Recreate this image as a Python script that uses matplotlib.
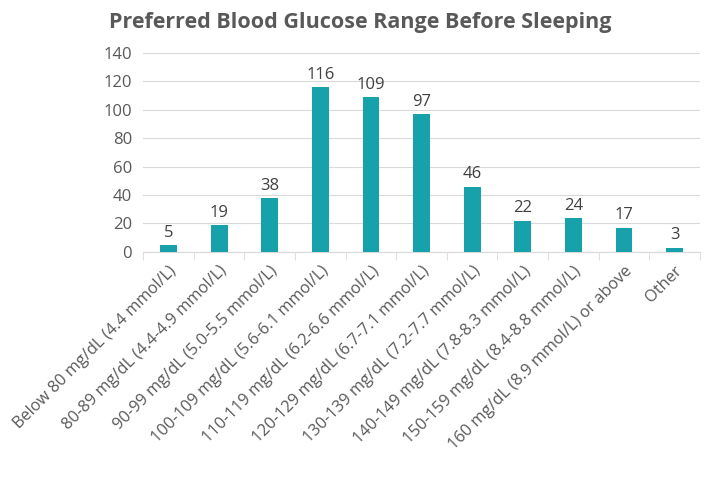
import matplotlib.pyplot as plt
from matplotlib.ticker import FixedLocator

# DATA
categories = [
    "Below 80 mg/dL (4.4 mmol/L)",
    "80-89 mg/dL (4.4-4.9 mmol/L)",
    "90-99 mg/dL (5.0-5.5 mmol/L)",
    "100-109 mg/dL (5.6-6.1 mmol/L)",
    "110-119 mg/dL (6.2-6.6 mmol/L)",
    "120-129 mg/dL (6.7-7.1 mmol/L)",
    "130-139 mg/dL (7.2-7.7 mmol/L)",
    "140-149 mg/dL (7.8-8.3 mmol/L)",
    "150-159 mg/dL (8.4-8.8 mmol/L)",
    "160 mg/dL (8.9 mmol/L) or above",
    "Other",
]
counts = [5, 19, 38, 116, 109, 97, 46, 22, 24, 17, 3]
y_ticks = [0, 20, 40, 60, 80, 100, 120, 140]


def main() -> None:
    plt.rcParams["font.family"] = ["Open Sans", "DejaVu Sans"]
    text_color = "#595959"
    bar_color = "#17a2ab"

    fig = plt.figure(figsize=(7.2, 4.94), dpi=100)
    ax = fig.add_axes([0.199, 0.49, 0.773, 0.403])

    x = list(range(len(categories)))
    ax.bar(x, counts, width=0.33, color=bar_color, zorder=3)

    for xi, v in zip(x, counts):
        ax.text(xi, v + 3, str(v), ha="center", va="bottom",
                fontsize=12, color="#404040")

    ax.set_xlim(-0.5, len(categories) - 0.5)
    ax.set_ylim(0, 140)
    ax.set_yticks(y_ticks)
    ax.tick_params(axis="y", length=0, labelsize=12, labelcolor=text_color, pad=8)

    ax.set_xticks(x)
    ax.set_xticklabels(categories, rotation=45, ha="right",
                       rotation_mode="anchor", fontsize=11.8, color=text_color)
    ax.tick_params(axis="x", which="major", length=0, pad=8)
    ax.xaxis.set_minor_locator(FixedLocator([i - 0.5 for i in range(len(categories) + 1)]))
    ax.tick_params(axis="x", which="minor", length=6, color="#d9d9d9")

    ax.grid(axis="y", color="#d9d9d9", linewidth=0.8, zorder=0)
    for side in ["top", "right", "left"]:
        ax.spines[side].set_visible(False)
    ax.spines["bottom"].set_color("#d9d9d9")

    fig.text(0.5, 0.955, "Preferred Blood Glucose Range Before Sleeping",
             ha="center", va="center", fontsize=15.5, fontweight="bold",
             color=text_color)

    fig.savefig("out.png", dpi=100)


if __name__ == "__main__":
    main()
